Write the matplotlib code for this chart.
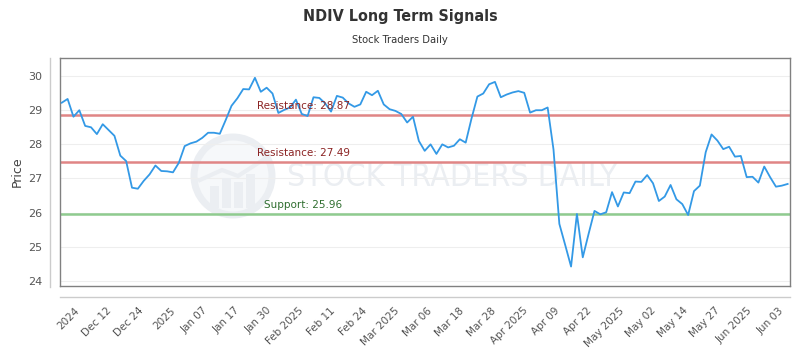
import numpy as np
import matplotlib
matplotlib.use('Agg')
import matplotlib.pyplot as plt
from matplotlib.lines import Line2D
from matplotlib.patches import Ellipse, Rectangle

# Price series (one value per trading day)
price = [29.22, 29.33, 28.81, 29.00, 28.54, 28.50, 28.30, 28.59, 28.42, 28.25,
         27.67, 27.51, 26.73, 26.70, 26.93, 27.12, 27.38, 27.22, 27.21, 27.18,
         27.46, 27.95, 28.03, 28.08, 28.19, 28.34, 28.34, 28.31, 28.71, 29.13,
         29.35, 29.62, 29.61, 29.95, 29.54, 29.66, 29.49, 28.92, 29.01, 29.08,
         29.31, 28.89, 28.83, 29.38, 29.36, 29.20, 28.96, 29.42, 29.37, 29.20,
         29.10, 29.17, 29.54, 29.44, 29.57, 29.17, 29.03, 28.98, 28.89, 28.64,
         28.81, 28.10, 27.81, 28.00, 27.72, 28.00, 27.91, 27.96, 28.15, 28.05,
         28.76, 29.40, 29.49, 29.76, 29.83, 29.38, 29.46, 29.52, 29.56, 29.51,
         28.93, 29.00, 29.00, 29.08, 27.85, 25.67, 25.05, 24.42, 25.96, 24.69,
         25.38, 26.05, 25.95, 26.01, 26.60, 26.18, 26.59, 26.57, 26.91, 26.90,
         27.10, 26.86, 26.34, 26.47, 26.81, 26.39, 26.25, 25.93, 26.63, 26.79,
         27.77, 28.29, 28.11, 27.86, 27.93, 27.64, 27.66, 27.04, 27.05, 26.88,
         27.35, 27.04, 26.76, 26.79, 26.84]

tick_labels = ['2024', 'Dec 12', 'Dec 24', '2025', 'Jan 07', 'Jan 17', 'Jan 30',
               'Feb 2025', 'Feb 11', 'Feb 24', 'Mar 2025', 'Mar 06', 'Mar 18',
               'Mar 28', 'Apr 2025', 'Apr 09', 'Apr 22', 'May 2025', 'May 02',
               'May 14', 'May 27', 'Jun 2025', 'Jun 03']

levels = [28.87, 27.49, 25.96]
level_names = ['Resistance', 'Resistance', 'Support']

fig = plt.figure(figsize=(8, 3.5), dpi=100)
ax = fig.add_axes([60/800, 1-286/350, 730/800, 228/350])
ax.set_facecolor('white')

x = np.arange(len(price))
ax.plot(x, price, color='#3399e6', lw=1.3, zorder=3)

# support / resistance lines
line_cols = ['#e08585', '#e08585', '#8fcb8f']
text_cols = ['#8b2323', '#8b2323', '#2f6e2f']
text_x = [33.3, 33.3, 34.6]
for lv, nm, lc, tc, tx in zip(levels, level_names, line_cols, text_cols, text_x):
    ax.axhline(lv, color=lc, lw=1.8, zorder=2)
    ax.annotate('%s: %.2f' % (nm, lv), (tx, lv), xytext=(0, 6.5),
                textcoords='offset points', va='center', ha='left',
                fontsize=7.5, color=tc, zorder=4)

# watermark
ftr = fig.transFigure
wm = '#ebeef2'
ax.add_patch(Ellipse((233/800, 1-176/350), 78/800, 78/350, transform=ftr,
                     facecolor='#f6f8fa', edgecolor=wm, lw=5, zorder=0.5))
for bx, bh in zip([210, 222, 234, 246], [22, 30, 26, 34]):
    ax.add_patch(Rectangle((bx/800, 1-208/350), 9/800, bh/350, transform=ftr,
                           facecolor=wm, edgecolor='none', zorder=0.6))
ax.add_line(Line2D([200/800, 222/800, 238/800, 266/800],
                   [1-180/350, 1-170/350, 1-176/350, 1-158/350],
                   transform=ftr, color=wm, lw=3, zorder=0.6))
ax.text(287/800, 1-178/350, 'STOCK TRADERS DAILY', transform=ftr,
        fontsize=23, fontstretch='condensed', color=wm, va='center', ha='left',
        zorder=0.5)

ax.set_xlim(-0.3, 124.4)
ax.set_ylim(23.85, 30.53)
ax.set_yticks(range(24, 31))
ax.grid(axis='y', color='#eeeeee', lw=0.8, zorder=0)
ax.set_axisbelow(True)

ax.set_xticks(np.linspace(2.1, 122.5, len(tick_labels)))
ax.set_xticklabels(tick_labels, rotation=45, ha='right', rotation_mode='anchor')
ax.tick_params(axis='x', length=0, pad=14, labelsize=7.5, labelcolor='#555555')
ax.tick_params(axis='y', length=0, pad=13, labelsize=8, labelcolor='#555555')
for s in ax.spines.values():
    s.set_color('#808080')
    s.set_linewidth(1)

ax.set_ylabel('Price', fontsize=9, color='#444444', labelpad=3)

# outer axis lines
fig.add_artist(Line2D([50/800, 50/800], [1-287/350, 1-58/350], color='#cccccc', lw=1))
fig.add_artist(Line2D([60/800, 790/800], [1-297/350, 1-297/350], color='#cccccc', lw=1))

fig.text(0.5, 1-16/350, 'NDIV Long Term Signals', ha='center', va='center',
         fontsize=11.5, fontweight='bold', fontstretch='condensed', color='#333333')
fig.text(0.5, 1-40/350, 'Stock Traders Daily', ha='center', va='center',
         fontsize=8, fontstretch='condensed', color='#333333')

fig.savefig('out.png', dpi=100)
